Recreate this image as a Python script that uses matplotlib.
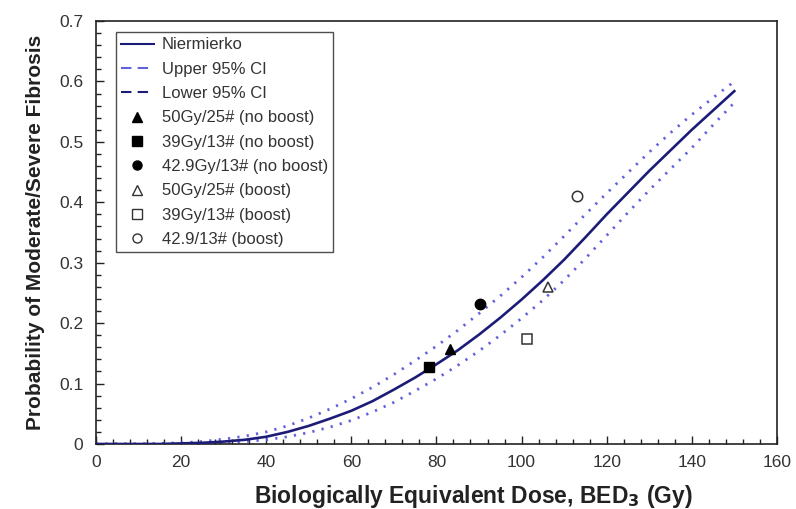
import matplotlib
matplotlib.use("Agg")
import matplotlib.pyplot as plt
from matplotlib.lines import Line2D
from matplotlib.ticker import MultipleLocator

plt.rcParams['font.family'] = ['Liberation Sans', 'DejaVu Sans']

# curve values (every 5 Gy)
bed = [0, 5, 10, 15, 20, 25, 30, 35, 40, 45, 50, 55, 60, 65, 70, 75,
       80, 85, 90, 95, 100, 105, 110, 115, 120, 125, 130, 135, 140, 145, 150]
ntcp = [0, 0, 0, 0, 0.001, 0.002, 0.004, 0.007, 0.012, 0.020, 0.030, 0.042,
        0.055, 0.071, 0.090, 0.110, 0.132, 0.155, 0.181, 0.209, 0.239, 0.271,
        0.305, 0.342, 0.380, 0.416, 0.452, 0.486, 0.520, 0.552, 0.584]
upper = [0, 0, 0, 0.001, 0.002, 0.004, 0.008, 0.013, 0.020, 0.030, 0.043, 0.058,
         0.075, 0.094, 0.115, 0.138, 0.162, 0.188, 0.216, 0.245, 0.276, 0.309,
         0.344, 0.380, 0.415, 0.449, 0.483, 0.515, 0.545, 0.573, 0.600]
lower = [0, 0, 0, 0, 0, 0.001, 0.002, 0.004, 0.007, 0.012, 0.019, 0.028,
         0.039, 0.053, 0.069, 0.088, 0.108, 0.130, 0.154, 0.180, 0.208, 0.238,
         0.271, 0.307, 0.345, 0.383, 0.420, 0.455, 0.490, 0.528, 0.565]

# observed points
labels = ["50Gy/25# (no boost)", "39Gy/13# (no boost)", "42.9Gy/13# (no boost)",
          "50Gy/25# (boost)", "39Gy/13# (boost)", "42.9/13# (boost)"]
pts_x = [83.2, 78.2, 90.2, 106.2, 101.3, 113.0]
pts_y = [0.157, 0.127, 0.232, 0.260, 0.174, 0.411]
markers = ['^', 's', 'o', '^', 's', 'o']
filled = [True, True, True, False, False, False]

navy = '#1c1c78'
blue = '#6262dc'

fig = plt.figure(figsize=(7.96, 5.09), dpi=100)
ax = fig.add_axes([0.1206, 0.1277, 0.8554, 0.8310])

ax.plot(bed, ntcp, color=navy, lw=1.9, zorder=3)
ax.plot(bed, upper, color=blue, lw=2.0, linestyle=(0, (0.8, 2.6)), zorder=2)
ax.plot(bed, lower, color=blue, lw=2.0, linestyle=(0, (0.8, 2.6)), zorder=2)

for i in range(len(pts_x)):
    if filled[i]:
        ax.plot(pts_x[i], pts_y[i], marker=markers[i], color='black',
                markersize=7.5, linestyle='none', zorder=4)
    else:
        ax.plot(pts_x[i], pts_y[i], marker=markers[i], markerfacecolor='white',
                markeredgecolor='#333333', markeredgewidth=1.1,
                markersize=7.5, linestyle='none', zorder=4)

ax.set_xlim(0, 160)
ax.set_ylim(0, 0.7)
ax.xaxis.set_major_locator(MultipleLocator(20))
ax.xaxis.set_minor_locator(MultipleLocator(4))
ax.yaxis.set_major_locator(MultipleLocator(0.1))
ax.yaxis.set_minor_locator(MultipleLocator(0.02))
ax.set_yticks([0, 0.1, 0.2, 0.3, 0.4, 0.5, 0.6, 0.7])
ax.set_yticklabels(['0', '0.1', '0.2', '0.3', '0.4', '0.5', '0.6', '0.7'])
ax.tick_params(which='major', direction='in', length=6, width=1,
               labelsize=12.5, colors='#222222', labelcolor='#333333')
ax.tick_params(axis='x', which='major', pad=8)
ax.tick_params(axis='y', which='major', pad=9)
ax.tick_params(which='minor', direction='in', length=3.5, width=1, colors='#222222')
for s in ax.spines.values():
    s.set_linewidth(1.2)
    s.set_color('#222222')

ax.set_xlabel('Biologically Equivalent Dose, BED$_{\\mathbf{3}}$ (Gy)',
              fontsize=16.5, fontweight='bold', color='#222222')
ax.xaxis.set_label_coords(0.554, -0.092)
ax.set_ylabel('Probability of Moderate/Severe Fibrosis',
              fontsize=15, fontweight='bold', color='#222222', labelpad=10)

handles = [Line2D([], [], color=navy, lw=1.5),
           Line2D([], [], color=blue, lw=1.5, linestyle=(0, (5, 3))),
           Line2D([], [], color=navy, lw=1.5, linestyle=(0, (5, 3)))]
for i in range(len(labels)):
    if filled[i]:
        handles.append(Line2D([], [], marker=markers[i], color='black',
                              markersize=6.5, linestyle='none'))
    else:
        handles.append(Line2D([], [], marker=markers[i], markerfacecolor='white',
                              markeredgecolor='#333333', markersize=6.5,
                              linestyle='none'))
names = ['Niermierko', 'Upper 95% CI', 'Lower 95% CI'] + labels

leg = ax.legend(handles, names, loc='upper left',
                bbox_to_anchor=(0.029, 0.973), fontsize=12,
                frameon=True, fancybox=False, edgecolor='#222222',
                handlelength=2.0, handletextpad=0.45, labelspacing=0.56,
                borderpad=0.3, borderaxespad=0)
leg.get_frame().set_linewidth(1.0)
for t in leg.get_texts():
    t.set_color('#333333')

fig.savefig('out.png', dpi=100)
